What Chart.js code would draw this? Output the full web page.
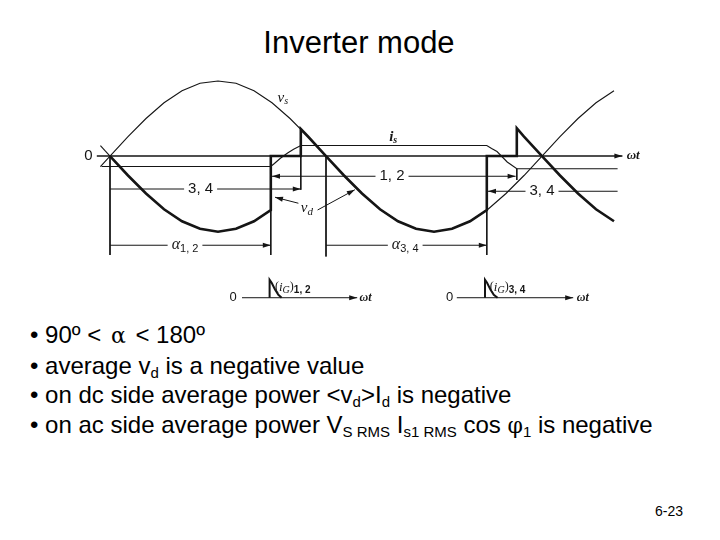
<!DOCTYPE html>
<html>
<head>
<meta charset="utf-8">
<title>Inverter mode</title>
<script src="https://cdn.jsdelivr.net/npm/chart.js@4.4.1/dist/chart.umd.min.js"></script>
<style>
  html, body { margin: 0; padding: 0; background: #fff; }
  body { width: 720px; height: 540px; position: relative; overflow: hidden;
         font-family: "Liberation Sans", Arial, sans-serif; color: #000; }
  #title { position: absolute; left: 0; top: 27px; width: 718px; text-align: center;
           font-size: 31px; line-height: 31px; }
  #chartBox { position: absolute; left: 60px; top: 70px; width: 600px; height: 250px; }
  #bullets { position: absolute; left: 30px; top: 320px; font-size: 24px; line-height: 29.5px;
             white-space: nowrap; }
  #bullets sub { font-size: 15px; vertical-align: -4px; line-height: 0; }
  .greek { font-family: "DejaVu Serif", "Liberation Serif", serif; font-size: 22px; }
  .wide .greek { margin: 0 3px; }
  #pageNo { position: absolute; left: 655px; top: 503px; font-size: 14px; }
</style>
</head>
<body>
<div id="title">Inverter mode</div>
<div id="chartBox"><canvas id="waveChart"></canvas></div>
<div id="bullets">
  <div class="wide">• 90º &lt; <span class="greek">α</span> &lt; 180º</div>
  <div>• average v<sub>d</sub> is a negative value</div>
  <div>• on dc side average power &lt;v<sub>d</sub>&gt;I<sub>d</sub> is negative</div>
  <div>• on ac side average power V<sub>S RMS</sub> I<sub>s1 RMS</sub> cos <span class="greek">φ</span><sub>1</sub> is negative</div>
</div>
<div id="pageNo">6-23</div>

<script>
// angles are wt in degrees, values in per unit of the source peak

// source voltage vs (thin)
const vsAngle = [-8, 0, 15, 30, 45, 60, 75, 90, 105, 120, 135, 150, 165, 180, 195, 210, 225,
                 240, 255, 270, 285, 300, 315, 330, 345, 360, 375, 390, 405, 420];
const vsValue = [-0.14, 0, 0.26, 0.5, 0.71, 0.87, 0.97, 1.0, 0.97, 0.87, 0.71, 0.5, 0.26, 0,
                 -0.26, -0.5, -0.71, -0.87, -0.97, -1.01, -0.97, -0.87, -0.71, -0.5, -0.26,
                 0, 0.26, 0.5, 0.71, 0.87];

// short piece of -vs before the first crossing
const minusVsAngle = [-8, 0];
const minusVsValue = [0.14, 0];

// dc side voltage vd (thick)
const vdAngle = [0, 15, 30, 45, 60, 75, 90, 105, 120, 134, 134, 159, 159,
                 165, 180, 195, 210, 225, 240, 255, 270, 285, 300, 314, 314, 339, 339,
                 345, 360, 375, 390, 405, 420];
const vdValue = [0, -0.26, -0.5, -0.71, -0.87, -0.97, -1.01, -0.97, -0.87, -0.72, 0, 0, 0.36,
                 0.26, 0, -0.26, -0.5, -0.71, -0.87, -0.97, -1.01, -0.97, -0.87, -0.72, 0, 0, 0.37,
                 0.26, 0, -0.26, -0.5, -0.71, -0.87];

// ac line current is
const isAngle = [-7, 134, 137, 142, 148, 153, 159, 314, 318, 322.5, 331, 339, 423];
const isValue = [-0.14, -0.14, -0.10, -0.03, 0.04, 0.09, 0.14, 0.14, 0.10, 0.06, -0.08, -0.17, -0.17];

// firing angles and end of commutation
const alpha12 = 134;
const commEnd12 = 159;
const alpha34 = 314;
const commEnd34 = 339;

// gate pulses (drawn on the small axes below)
const gateBase = -1.89;
const gate12Angle = [133, 133, 134.7, 137.5, 140.3, 143];
const gate34Angle = [312.5, 312.5, 314.2, 317, 319.8, 323];
const gateValue = [-1.89, -1.65, -1.69, -1.78, -1.85, -1.89];

// vertical guide lines: [angle, from, to]
const guideSegments = [
  [0, 0, -1.32],
  [alpha12, -0.72, -1.32],
  [commEnd12, 0.14, -0.45],
  [180, 0, -1.34],
  [alpha34, -0.72, -1.32],
  [commEnd34, -0.17, -0.32]
];

const ink = '#151515';
const serif = "'Liberation Serif', 'Times New Roman', serif";
const sans = "'Liberation Sans', Arial, sans-serif";

// arrows and dimension lines in chart units
const arrows = [
  { from: [-11, 0], to: [427, 0], width: 1.6, head: 'end' },
  { from: [0, -0.44], to: [commEnd12, -0.44], head: 'end' },
  { from: [alpha12 + 1, -0.27], to: [commEnd34 - 1, -0.27], head: 'both' },
  { from: [423, -0.47], to: [alpha34 + 1, -0.47], head: 'end' },
  { from: [0, -1.19], to: [alpha12, -1.19], head: 'end' },
  { from: [180, -1.19], to: [alpha34, -1.19], head: 'end' },
  { from: [157, -0.63], to: [137.5, -0.55], head: 'end' },
  { from: [173, -0.72], to: [204, -0.45], head: 'end' },
  { from: [110, gateBase], to: [206, gateBase], head: 'end' },
  { from: [289, gateBase], to: [386, gateBase], head: 'end' }
];

const labels = [
  { at: [-18, 0], runs: [['0', `15px ${sans}`]] },
  { at: [144, 0.77], runs: [['v', `italic 15px ${serif}`], ['s', `italic 10px ${serif}`, 3]] },
  { at: [236, 0.25], runs: [['i', `italic bold 15px ${serif}`], ['s', `italic bold 10px ${serif}`, 3]] },
  { at: [164, -0.69], runs: [['v', `italic 15px ${serif}`], ['d', `italic 11px ${serif}`, 4]] },
  { at: [436, 0], runs: [['ωt', `italic bold 13px ${serif}`]] },
  { at: [75.5, -0.44], bg: true, runs: [['3, 4', `15px ${sans}`]] },
  { at: [235, -0.27], bg: true, runs: [['1, 2', `15px ${sans}`]] },
  { at: [360, -0.47], bg: true, runs: [['3, 4', `15px ${sans}`]] },
  { at: [62.5, -1.19], bg: true, runs: [['α', `italic 16px ${serif}`], ['1, 2', `11px ${sans}`, 4]] },
  { at: [246, -1.19], bg: true, runs: [['α', `italic 16px ${serif}`], ['3, 4', `11px ${sans}`, 4]] },
  { at: [102.5, gateBase], runs: [['0', `13px ${sans}`]] },
  { at: [213, gateBase], runs: [['ωt', `italic bold 12px ${serif}`]] },
  { at: [137.5, -1.75], align: 'left', runs: [['(', `12px ${serif}`], ['i', `italic 13px ${serif}`],
      ['G', `italic 10px ${serif}`, 3], [')', `12px ${serif}`], ['1, 2', `bold 10px ${sans}`, 3]] },
  { at: [283, gateBase], runs: [['0', `13px ${sans}`]] },
  { at: [394, gateBase], runs: [['ωt', `italic bold 12px ${serif}`]] },
  { at: [316.5, -1.75], align: 'left', runs: [['(', `12px ${serif}`], ['i', `italic 13px ${serif}`],
      ['G', `italic 10px ${serif}`, 3], [')', `12px ${serif}`], ['3, 4', `bold 10px ${sans}`, 3]] }
];

const toPoints = (xs, ys) => xs.map((x, i) => ({ x: x, y: ys[i] }));

const guidePoints = () => {
  const pts = [];
  guideSegments.forEach(([a, y1, y2]) => {
    pts.push({ x: a, y: y1 }, { x: a, y: y2 }, { x: a, y: null });
  });
  return pts;
};

const drawHead = (ctx, fx, fy, tx, ty) => {
  const ang = Math.atan2(ty - fy, tx - fx);
  const len = 8, half = 2.6;
  ctx.beginPath();
  ctx.moveTo(tx, ty);
  ctx.lineTo(tx - len * Math.cos(ang) + half * Math.sin(ang), ty - len * Math.sin(ang) - half * Math.cos(ang));
  ctx.lineTo(tx - len * Math.cos(ang) - half * Math.sin(ang), ty - len * Math.sin(ang) + half * Math.cos(ang));
  ctx.closePath();
  ctx.fill();
};

// draws the arrows and the labels of the diagram through the chart scales
const slideMarks = {
  id: 'slideMarks',
  afterDatasetsDraw(chart) {
    const { ctx, scales: { x, y } } = chart;
    ctx.save();
    ctx.strokeStyle = ink;
    ctx.fillStyle = ink;

    arrows.forEach(a => {
      const fx = x.getPixelForValue(a.from[0]), fy = y.getPixelForValue(a.from[1]);
      const tx = x.getPixelForValue(a.to[0]), ty = y.getPixelForValue(a.to[1]);
      ctx.lineWidth = a.width || 1;
      ctx.beginPath();
      ctx.moveTo(fx, fy);
      ctx.lineTo(tx, ty);
      ctx.stroke();
      drawHead(ctx, fx, fy, tx, ty);
      if (a.head === 'both') drawHead(ctx, tx, ty, fx, fy);
    });

    ctx.textBaseline = 'middle';
    ctx.textAlign = 'left';
    labels.forEach(l => {
      let total = 0;
      l.runs.forEach(r => { ctx.font = r[1]; total += ctx.measureText(r[0]).width; });
      const px = x.getPixelForValue(l.at[0]);
      const py = y.getPixelForValue(l.at[1]);
      let sx = l.align === 'left' ? px : px - total / 2;
      if (l.bg) {
        ctx.fillStyle = '#fff';
        ctx.fillRect(sx - 4, py - 8, total + 8, 17);
        ctx.fillStyle = ink;
      }
      l.runs.forEach(r => {
        ctx.font = r[1];
        ctx.fillText(r[0], sx, py + (r[2] || 0));
        sx += ctx.measureText(r[0]).width;
      });
    });
    ctx.restore();
  }
};

const lineSet = (label, data, width) => ({
  label: label,
  data: data,
  borderColor: ink,
  borderWidth: width,
  pointRadius: 0,
  tension: 0,
  spanGaps: false,
  fill: false
});

const renderWaveChart = () => {
  const ctx = document.getElementById('waveChart').getContext('2d');
  new Chart(ctx, {
    type: 'line',
    data: {
      datasets: [
        lineSet('vd', toPoints(vdAngle, vdValue), 2.6),
        lineSet('vs', toPoints(vsAngle, vsValue), 1.1),
        lineSet('-vs', toPoints(minusVsAngle, minusVsValue), 1.1),
        lineSet('is', toPoints(isAngle, isValue), 1.1),
        lineSet('guides', guidePoints(), 1),
        lineSet('iG 1,2', toPoints(gate12Angle, gateValue), 2),
        lineSet('iG 3,4', toPoints(gate34Angle, gateValue), 2)
      ]
    },
    options: {
      responsive: true,
      maintainAspectRatio: false,
      animation: false,
      layout: { padding: 0 },
      plugins: { legend: { display: false }, tooltip: { enabled: false } },
      scales: {
        x: { type: 'linear', min: -41.67, max: 458.33, display: false },
        y: { min: -2.187, max: 1.147, display: false }
      }
    },
    plugins: [slideMarks]
  });
};

document.addEventListener('DOMContentLoaded', renderWaveChart);
</script>
</body>
</html>
